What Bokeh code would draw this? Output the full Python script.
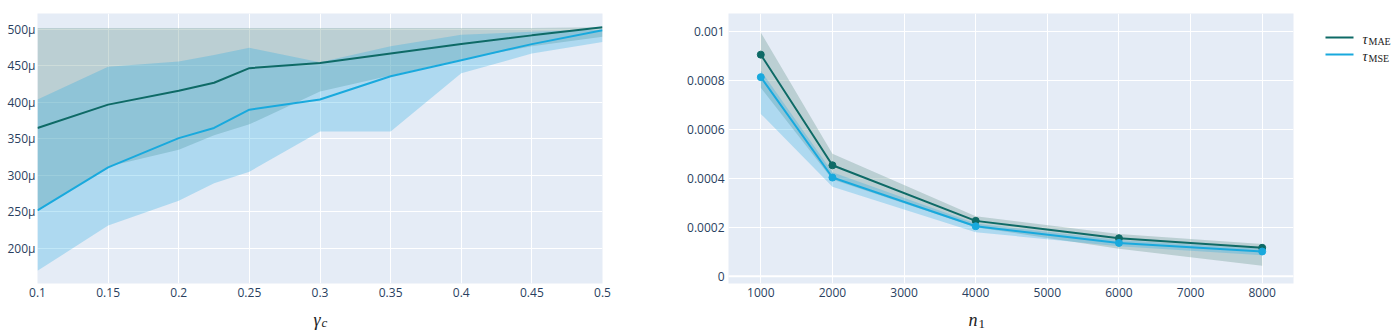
from bokeh.plotting import figure
from bokeh.layouts import row, column
from bokeh.models import Range1d, FixedTicker, Span
from bokeh.embed import file_html
from bokeh.resources import INLINE
from bokeh.core.properties import value

# ---------------- data: left panel (gamma_c) ----------------
gamma_c = [0.1, 0.15, 0.2, 0.225, 0.25, 0.3, 0.35, 0.4, 0.45, 0.5]
mae_left = [365e-6, 397e-6, 416e-6, 427e-6, 447e-6, 454e-6, 467e-6, 480e-6, 492e-6, 503e-6]
mae_left_hi = [502e-6, 502e-6, 502e-6, 502e-6, 502e-6, 502e-6, 502e-6, 502e-6, 502e-6, 503e-6]
mae_left_lo = [251e-6, 312e-6, 335e-6, 355e-6, 370e-6, 415e-6, 437e-6, 459e-6, 477e-6, 490e-6]
mse_left = [252e-6, 311e-6, 351e-6, 365e-6, 390e-6, 404e-6, 436e-6, 458e-6, 480e-6, 499e-6]
mse_left_hi = [404e-6, 449e-6, 456e-6, 465e-6, 475e-6, 455e-6, 477e-6, 493e-6, 497e-6, 500e-6]
mse_left_lo = [169e-6, 231e-6, 265e-6, 289e-6, 305e-6, 360e-6, 360e-6, 440e-6, 467e-6, 483e-6]

left_xticks = [0.1, 0.15, 0.2, 0.25, 0.3, 0.35, 0.4, 0.45, 0.5]
left_xlabels = ["0.1", "0.15", "0.2", "0.25", "0.3", "0.35", "0.4", "0.45", "0.5"]
left_yticks = [200e-6, 250e-6, 300e-6, 350e-6, 400e-6, 450e-6, 500e-6]
left_ylabels = ["200μ", "250μ", "300μ", "350μ", "400μ", "450μ", "500μ"]

# ---------------- data: right panel (n_1) ----------------
n1 = [1000, 2000, 4000, 6000, 8000]
mae_right = [0.000905, 0.000453, 0.000226, 0.000155, 0.000116]
mae_right_hi = [0.000995, 0.000500, 0.000245, 0.000172, 0.000132]
mae_right_lo = [0.000770, 0.000395, 0.000200, 0.000112, 0.000043]
mse_right = [0.000813, 0.000403, 0.000204, 0.000136, 0.000101]
mse_right_hi = [0.000840, 0.000425, 0.000215, 0.000148, 0.000112]
mse_right_lo = [0.000663, 0.000365, 0.000180, 0.000122, 0.000086]

right_xticks = [1000, 2000, 3000, 4000, 5000, 6000, 7000, 8000]
right_xlabels = ["1000", "2000", "3000", "4000", "5000", "6000", "7000", "8000"]
right_yticks = [0.0, 0.0002, 0.0004, 0.0006, 0.0008, 0.001]
right_ylabels = ["0", "0.0002", "0.0004", "0.0006", "0.0008", "0.001"]

series_names = ["MAE", "MSE"]

# ---------------- styles ----------------
BG = "#e5ecf6"
TXT = "#2a3f5f"
MAE_C = "#0e6a66"
MSE_C = "#19a9dd"
MAE_BAND = "#5a8a80"
MSE_BAND = "#1ba8e0"
MAE_A = 0.30
MSE_A = 0.27
TITLE_C = "#222222"
SERIF = "Liberation Serif"


def style(p, xt, xl, yt, yl, ystand):
    p.background_fill_color = BG
    p.border_fill_color = "white"
    p.outline_line_color = None
    p.xgrid.grid_line_color = "white"
    p.ygrid.grid_line_color = "white"
    p.xgrid.grid_line_width = 1
    p.ygrid.grid_line_width = 1
    for ax in (p.xaxis[0], p.yaxis[0]):
        ax.axis_line_color = None
        ax.major_tick_line_color = None
        ax.minor_tick_line_color = None
        ax.major_tick_out = 0
        ax.major_tick_in = 0
        ax.major_label_text_font = "Open Sans"
        ax.major_label_text_font_size = "12px"
        ax.major_label_text_color = TXT
    p.xaxis[0].ticker = FixedTicker(ticks=xt)
    p.xaxis[0].major_label_overrides = dict(zip(xt, xl))
    p.yaxis[0].ticker = FixedTicker(ticks=yt)
    p.yaxis[0].major_label_overrides = dict(zip(yt, yl))
    p.xaxis[0].major_label_standoff = 4
    p.yaxis[0].major_label_standoff = ystand


FIG_H = 303

# ---------------- left figure ----------------
p1 = figure(width=640, height=FIG_H, min_border_left=37, min_border_right=38,
            min_border_top=13, min_border_bottom=20,
            x_range=Range1d(0.1, 0.5), y_range=Range1d(151.6e-6, 522e-6),
            output_backend="svg", toolbar_location=None)
style(p1, left_xticks, left_xlabels, left_yticks, left_ylabels, 2)
p1.varea(x=gamma_c, y1=mae_left_lo, y2=mae_left_hi, fill_color=MAE_BAND, fill_alpha=MAE_A)
p1.varea(x=gamma_c, y1=mse_left_lo, y2=mse_left_hi, fill_color=MSE_BAND, fill_alpha=MSE_A)
p1.line(gamma_c, mae_left, line_color=MAE_C, line_width=2)
p1.line(gamma_c, mse_left, line_color=MSE_C, line_width=2)

# ---------------- right figure ----------------
p2 = figure(width=670, height=FIG_H, min_border_left=88, min_border_right=17,
            min_border_top=13, min_border_bottom=20,
            x_range=Range1d(549, 8437), y_range=Range1d(-0.0000298, 0.001073),
            output_backend="svg", toolbar_location=None)
style(p2, right_xticks, right_xlabels, right_yticks, right_ylabels, 4)
p2.add_layout(Span(location=0, dimension="width", line_color="white", line_width=2))
p2.varea(x=n1, y1=mae_right_lo, y2=mae_right_hi, fill_color=MAE_BAND, fill_alpha=MAE_A)
p2.varea(x=n1, y1=mse_right_lo, y2=mse_right_hi, fill_color=MSE_BAND, fill_alpha=MSE_A)
p2.line(n1, mae_right, line_color=MAE_C, line_width=2)
p2.scatter(n1, mae_right, size=7, fill_color=MAE_C, line_color=MAE_C)
p2.line(n1, mse_right, line_color=MSE_C, line_width=2)
p2.scatter(n1, mse_right, size=7, fill_color=MSE_C, line_color=MSE_C)

# ---------------- legend figure (pixel coordinates) ----------------
p3 = figure(width=89, height=FIG_H, x_range=Range1d(0, 89), y_range=Range1d(FIG_H, 0),
            min_border=0, output_backend="svg", toolbar_location=None)
p3.axis.visible = False
p3.grid.visible = False
p3.outline_line_color = None
p3.background_fill_color = "white"
p3.border_fill_color = "white"
key_y = [27, 46]
for name, col, yy in zip(series_names, [MAE_C, MSE_C], key_y):
    p3.line([15, 43], [yy, yy], line_color=col, line_width=2)
    p3.text(x=[52], y=[yy + 2], text=["τ"], text_font=value(SERIF),
            text_font_style="italic", text_font_size="14px", text_color=TITLE_C,
            text_baseline="alphabetic")
    p3.text(x=[58], y=[yy + 4], text=[name], text_font=value(SERIF),
            text_font_size="10px", text_color=TITLE_C, text_baseline="alphabetic")

# ---------------- axis-title strip (pixel coordinates) ----------------
STRIP_H = 30
strip = figure(width=1399, height=STRIP_H, x_range=Range1d(0, 1399), y_range=Range1d(STRIP_H, 0),
               min_border=0, output_backend="svg", toolbar_location=None)
strip.axis.visible = False
strip.grid.visible = False
strip.outline_line_color = None
strip.background_fill_color = "white"
strip.border_fill_color = "white"
# gamma_c
strip.text(x=[320], y=[16], text=["γ"], text_font=value(SERIF), text_font_style="italic",
           text_font_size="18px", text_color=TITLE_C, text_align="right",
           text_baseline="alphabetic")
strip.text(x=[321], y=[19], text=["c"], text_font=value(SERIF), text_font_style="italic",
           text_font_size="13px", text_color=TITLE_C, text_align="left",
           text_baseline="alphabetic")
# n_1
strip.text(x=[977], y=[16], text=["n"], text_font=value(SERIF), text_font_style="italic",
           text_font_size="18px", text_color=TITLE_C, text_align="right",
           text_baseline="alphabetic")
strip.text(x=[978], y=[20], text=["1"], text_font=value(SERIF),
           text_font_size="13px", text_color=TITLE_C, text_align="left",
           text_baseline="alphabetic")

layout = column(row(p1, p2, p3), strip)
open("out.html", "w").write(file_html(layout, INLINE))
